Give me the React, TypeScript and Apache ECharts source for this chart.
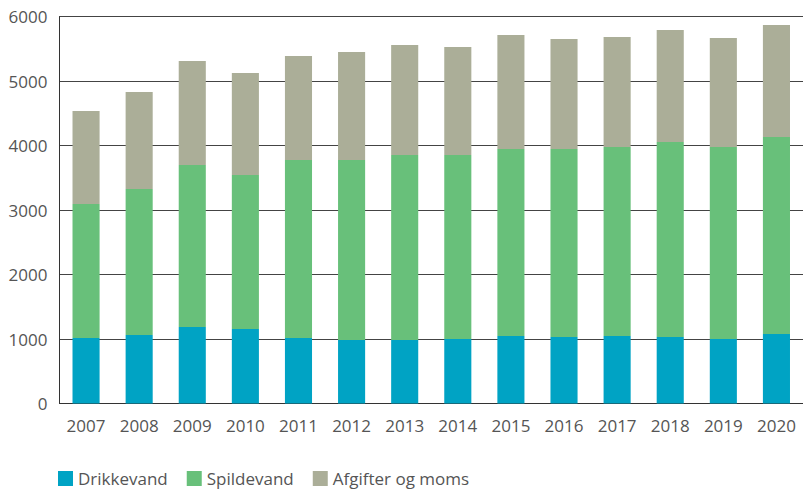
import React, { useEffect, useRef } from "react";
import * as echarts from "echarts";

const years = ["2007","2008","2009","2010","2011","2012","2013","2014","2015","2016","2017","2018","2019","2020"];
const drikkevand = [1015, 1062, 1186, 1155, 1015, 984, 984, 1000, 1047, 1031, 1047, 1031, 1000, 1078];
const spildevand = [2078, 2263, 2512, 2388, 2760, 2791, 2869, 2853, 2899, 2915, 2930, 3023, 2977, 3054];
const afgifter = [1442, 1504, 1612, 1581, 1613, 1675, 1705, 1674, 1767, 1705, 1705, 1737, 1690, 1736];
const seriesNames = ["Drikkevand", "Spildevand", "Afgifter og moms"];
const colors = ["#00a3c4", "#68c07a", "#abae98"];

export default function App() {
  const ref = useRef<HTMLDivElement>(null);
  useEffect(() => {
    if (!ref.current) return;
    const chart = echarts.init(ref.current, null, { renderer: "svg" });
    const font = "'Open Sans', sans-serif";
    const data = [drikkevand, spildevand, afgifter];
    chart.setOption({
      animation: false,
      textStyle: { fontFamily: font },
      grid: { left: 59.5, right: -7, top: 16.5, bottom: 86.5, containLabel: false },
      legend: {
        left: 58,
        top: 470,
        padding: 0,
        itemWidth: 15,
        itemHeight: 15,
        itemGap: 19,
        icon: "rect",
        textStyle: { fontSize: 17, color: "#555", fontFamily: font },
        data: seriesNames,
      },
      xAxis: {
        type: "category",
        data: years,
        axisLine: { show: true, lineStyle: { color: "#333", width: 1 } },
        axisTick: { show: false },
        axisLabel: { fontSize: 17, color: "#555", margin: 13, fontFamily: font },
      },
      yAxis: {
        type: "value",
        min: 0,
        max: 6000,
        interval: 1000,
        axisLine: { show: true, lineStyle: { color: "#333", width: 1 } },
        axisTick: { show: false },
        axisLabel: { fontSize: 17, color: "#555", margin: 12, fontFamily: font, formatter: (v: number) => String(v) },
        splitLine: { show: true, lineStyle: { color: "#444", width: 1 } },
      },
      series: data.map((d, i) => ({
        name: seriesNames[i],
        type: "bar",
        stack: "total",
        data: d,
        barWidth: "51%",
        itemStyle: { color: colors[i] },
      })),
    });
    return () => chart.dispose();
  }, []);
  return <div ref={ref} style={{ width: 803, height: 490, position: "absolute", left: 0, top: 0 }} />;
}
